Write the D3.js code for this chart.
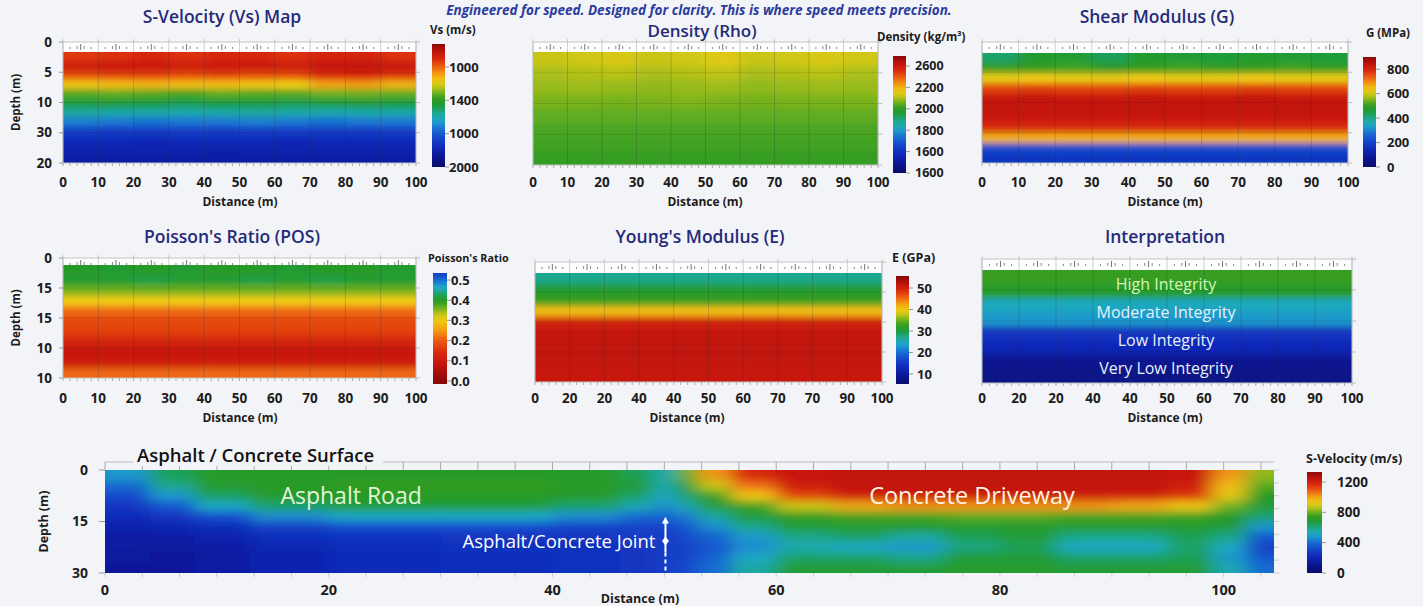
<!DOCTYPE html>
<html>
<head>
<meta charset="utf-8">
<script src="https://cdn.jsdelivr.net/npm/d3@7"></script>
<style>
  body { margin: 0; background: #f3f4f8; overflow: hidden; }
  svg text { font-family: "Open Sans", "DejaVu Sans", sans-serif; }
</style>
</head>
<body>
<div id="chart"></div>
<script>
const W = 1423, H = 606;

// ---- data ----
// distance ticks of the six small sections (m)
const dist10 = [0, 10, 20, 30, 40, 50, 60, 70, 80, 90, 100];

// tick labels exactly as printed
const xLabelsA = ["0", "10", "20", "30", "40", "50", "60", "70", "80", "90", "100"];
const xLabelsB = ["0", "20", "20", "40", "40", "50", "60", "70", "70", "90", "100"];
const xLabelsC = ["0", "20", "20", "40", "40", "50", "60", "70", "80", "90", "100"];
const vsDepthLabels = ["0", "5", "10", "30", "20"];
const posDepthLabels = ["0", "15", "15", "10", "10"];

// colour bar labels
const vsBarLabels = ["1000", "1400", "1000", "2000"];
const rhoBarLabels = ["2600", "2200", "2000", "1800", "1600", "1600"];
const gBarTicks = [0, 200, 400, 600, 800];
const posBarTicks = [0.0, 0.1, 0.2, 0.3, 0.4, 0.5];
const eBarTicks = [10, 20, 30, 40, 50];
const surfBarTicks = [0, 400, 800, 1200];

const integrityLabels = ["High Integrity", "Moderate Integrity", "Low Integrity", "Very Low Integrity"];

// grids : one row per depth slice (top -> bottom), one column per 10 m of distance
const vsGrid = [
  [1060, 1070, 1080, 1070, 1080, 1080, 1070, 1090, 1090, 1070],
  [1110, 1120, 1120, 1110, 1120, 1120, 1110, 1130, 1140, 1120],
  [1040, 1050, 1050, 1040, 1050, 1040, 1040, 1080, 1090, 1070],
  [910, 920, 930, 920, 920, 910, 900, 950, 960, 930],
  [780, 790, 780, 770, 790, 780, 780, 800, 800, 790],
  [700, 710, 700, 690, 700, 700, 690, 700, 710, 700],
  [630, 620, 620, 610, 620, 630, 620, 610, 620, 620],
  [530, 520, 510, 520, 520, 530, 520, 510, 520, 520],
  [420, 410, 410, 420, 410, 410, 420, 410, 410, 420],
  [370, 370, 360, 370, 370, 370, 360, 370, 370, 370],
  [340, 340, 340, 340, 330, 340, 340, 340, 340, 340],
  [320, 320, 320, 320, 320, 320, 320, 320, 320, 320]
];
const rhoGrid = [
  [2290, 2300, 2310, 2290, 2300, 2320, 2290, 2300, 2310, 2300],
  [2265, 2270, 2275, 2265, 2270, 2280, 2265, 2270, 2275, 2265],
  [2250, 2255, 2250, 2245, 2250, 2255, 2245, 2250, 2255, 2250],
  [2230, 2230, 2225, 2230, 2235, 2230, 2225, 2230, 2230, 2230],
  [2210, 2210, 2210, 2210, 2210, 2210, 2210, 2210, 2210, 2210],
  [2190, 2190, 2190, 2190, 2190, 2190, 2190, 2190, 2190, 2190],
  [2180, 2180, 2180, 2180, 2180, 2180, 2180, 2180, 2180, 2180],
  [2170, 2170, 2170, 2170, 2170, 2170, 2170, 2170, 2170, 2170]
];
const gGrid = [
  [420, 470, 460, 430, 470, 460, 450, 470, 460, 450],
  [500, 500, 510, 490, 500, 510, 500, 500, 510, 500],
  [620, 630, 620, 620, 630, 620, 620, 630, 620, 620],
  [760, 770, 760, 760, 770, 760, 760, 770, 760, 760],
  [830, 840, 830, 830, 840, 830, 830, 840, 830, 830],
  [845, 840, 845, 840, 845, 840, 845, 840, 845, 840],
  [830, 830, 830, 830, 830, 830, 830, 830, 830, 830],
  [790, 790, 790, 790, 790, 790, 790, 790, 790, 790],
  [660, 660, 660, 660, 660, 660, 660, 660, 660, 660],
  [220, 220, 220, 220, 220, 220, 220, 220, 220, 220],
  [170, 170, 170, 170, 170, 170, 170, 170, 170, 170]
];
const posGrid = [
  [0.40, 0.41, 0.40, 0.41, 0.40, 0.40, 0.41, 0.40, 0.40, 0.41],
  [0.41, 0.41, 0.42, 0.41, 0.41, 0.42, 0.41, 0.42, 0.41, 0.41],
  [0.36, 0.36, 0.36, 0.36, 0.36, 0.36, 0.36, 0.36, 0.36, 0.36],
  [0.30, 0.30, 0.30, 0.30, 0.30, 0.30, 0.30, 0.30, 0.30, 0.30],
  [0.21, 0.21, 0.21, 0.21, 0.21, 0.21, 0.21, 0.21, 0.21, 0.21],
  [0.18, 0.18, 0.18, 0.18, 0.18, 0.18, 0.18, 0.18, 0.18, 0.18],
  [0.17, 0.17, 0.17, 0.17, 0.17, 0.17, 0.17, 0.17, 0.17, 0.17],
  [0.12, 0.12, 0.12, 0.12, 0.12, 0.12, 0.12, 0.12, 0.12, 0.12],
  [0.10, 0.10, 0.10, 0.10, 0.10, 0.10, 0.10, 0.10, 0.10, 0.10],
  [0.11, 0.11, 0.11, 0.11, 0.11, 0.11, 0.11, 0.11, 0.11, 0.11],
  [0.21, 0.21, 0.21, 0.21, 0.21, 0.21, 0.21, 0.21, 0.21, 0.21]
];
const eGrid = [
  [27, 27, 27, 27, 27, 27, 27, 27, 27, 27],
  [31, 31, 31, 31, 31, 31, 31, 31, 31, 31],
  [33, 33, 33, 33, 33, 33, 33, 33, 33, 33],
  [41, 41, 41, 41, 41, 41, 41, 41, 41, 41],
  [50, 50, 50, 50, 50, 50, 50, 50, 50, 50],
  [51.5, 51.5, 51.5, 51.5, 51.5, 51.5, 51.5, 51.5, 51.5, 51.5],
  [52, 52, 52, 52, 52, 52, 52, 52, 52, 52],
  [52, 52, 52, 52, 52, 52, 52, 52, 52, 52],
  [51.5, 51.5, 51.5, 51.5, 51.5, 51.5, 51.5, 51.5, 51.5, 51.5],
  [51, 51, 51, 51, 51, 51, 51, 51, 51, 51]
];
const intGrid = [
  [0.56, 0.56, 0.56, 0.56, 0.56, 0.56, 0.56, 0.56, 0.56, 0.56],
  [0.53, 0.53, 0.53, 0.53, 0.53, 0.53, 0.53, 0.53, 0.53, 0.53],
  [0.39, 0.39, 0.39, 0.39, 0.39, 0.39, 0.39, 0.39, 0.39, 0.39],
  [0.36, 0.36, 0.36, 0.36, 0.36, 0.36, 0.36, 0.36, 0.36, 0.36],
  [0.19, 0.19, 0.19, 0.19, 0.19, 0.19, 0.19, 0.19, 0.19, 0.19],
  [0.16, 0.16, 0.16, 0.16, 0.16, 0.16, 0.16, 0.16, 0.16, 0.16],
  [0.08, 0.08, 0.08, 0.08, 0.08, 0.08, 0.08, 0.08, 0.08, 0.08],
  [0.06, 0.06, 0.06, 0.06, 0.06, 0.06, 0.06, 0.06, 0.06, 0.06]
];

// surface section : cell edges in distance and depth, values in m/s
const surfDistEdges = [0, 4, 8, 13, 20, 30, 40, 46, 49, 51, 53, 56, 60, 65, 70, 75, 80, 85, 90, 95, 99, 102, 104.5];
const surfDepthEdges = [0, 3, 6, 9, 12, 15, 18, 21, 24, 27, 30];
const surfTicks = [0, 20, 40, 60, 80, 100];
const surfDepthTicks = [0, 15, 30];
const surfGrid = [
  [480, 640, 710, 720, 720, 720, 710, 640, 540, 800, 1020, 1180, 1230, 1250, 1250, 1250, 1250, 1250, 1250, 1230, 1020, 830],
  [400, 590, 700, 720, 740, 740, 720, 670, 540, 700, 880, 1070, 1210, 1250, 1250, 1250, 1250, 1250, 1250, 1210, 960, 780],
  [320, 480, 630, 700, 720, 720, 700, 620, 510, 620, 750, 940, 1130, 1210, 1220, 1220, 1220, 1220, 1210, 1150, 910, 720],
  [260, 350, 510, 620, 670, 670, 620, 540, 460, 540, 670, 750, 880, 990, 1020, 1020, 1020, 1020, 990, 940, 800, 670],
  [220, 260, 330, 460, 510, 510, 460, 400, 380, 430, 560, 670, 740, 760, 760, 780, 780, 760, 760, 750, 720, 620],
  [190, 200, 230, 290, 330, 330, 300, 300, 300, 350, 460, 590, 670, 700, 700, 700, 700, 700, 700, 700, 670, 480],
  [160, 160, 190, 230, 250, 260, 260, 280, 280, 320, 380, 480, 590, 620, 560, 640, 670, 590, 590, 640, 590, 350],
  [150, 140, 160, 200, 230, 240, 250, 260, 280, 300, 350, 460, 540, 510, 480, 600, 640, 510, 510, 620, 510, 290],
  [140, 130, 150, 190, 220, 230, 240, 260, 280, 300, 380, 510, 620, 620, 590, 670, 670, 620, 620, 640, 480, 350],
  [130, 130, 160, 190, 220, 230, 240, 260, 280, 320, 400, 560, 670, 670, 670, 700, 700, 670, 670, 670, 540, 400]
];
const jointAt = 50.1;

// ---- colour map (jet like) ----
const jet = d3.scaleLinear()
  .domain([0, 0.08, 0.16, 0.24, 0.32, 0.38, 0.44, 0.5, 0.55, 0.6, 0.65, 0.7, 0.76, 0.82, 0.88, 0.94, 1])
  .range(["#0a0c6a", "#0c1590", "#1028b8", "#1448cc", "#1a78d2", "#1ea8c8", "#1fa890", "#1f9c3a", "#2a9a22",
          "#6cb020", "#c0c418", "#f0cc14", "#f29a12", "#ec5a12", "#d8280f", "#c0120c", "#8a0808"])
  .clamp(true);
// poisson ratio runs the other way and stops at blue
const posLevel = d3.scaleLinear().domain([0, 0.1, 0.2, 0.3, 0.4, 0.5]).range([1, 0.92, 0.82, 0.7, 0.54, 0.3]);

const svg = d3.select("#chart").append("svg").attr("width", W).attr("height", H);
const defs = svg.append("defs");
svg.append("rect").attr("width", W).attr("height", H).attr("fill", "#f3f4f8");

function blur(id, sx, sy) {
  defs.append("filter").attr("id", id)
    .attr("x", "-5%").attr("y", "-5%").attr("width", "110%").attr("height", "110%")
    .append("feGaussianBlur").attr("stdDeviation", sx + " " + sy);
}
blur("soft", 7, 3);
blur("softWide", 10, 4);

const navy = "#252a78", ink = "#1c1c1c";

// subtitle along the top edge
svg.append("text")
  .attr("x", 699).attr("y", 14.5)
  .attr("text-anchor", "middle")
  .style("font-size", "13.5px").style("font-style", "italic").style("font-weight", 700)
  .attr("fill", "#2b3b9e")
  .text("Engineered for speed. Designed for clarity. This is where speed meets precision.");

// cells + blur, clipped to the plot rectangle
function heat(g, id, cells, xa, xb, ya, yb, color, rect, filter) {
  defs.append("clipPath").attr("id", "clip-" + id).append("rect")
    .attr("x", rect[0]).attr("y", rect[1]).attr("width", rect[2] - rect[0]).attr("height", rect[3] - rect[1]);
  g.append("g").attr("clip-path", `url(#clip-${id})`)
    .append("g").attr("filter", `url(#${filter})`)
    .selectAll("rect").data(cells).join("rect")
      .attr("x", xa).attr("y", ya)
      .attr("width", d => xb(d) - xa(d) + 0.6)
      .attr("height", d => yb(d) - ya(d) + 0.6)
      .attr("fill", d => color(d.v));
}

function colourBar(b, color) {
  const y = d3.scaleLinear().domain(b.domain).range([b.y0, b.y1]);
  const grad = defs.append("linearGradient").attr("id", "grad-" + b.id)
    .attr("x1", 0).attr("x2", 0).attr("y1", 0).attr("y2", 1);
  d3.range(0, 1.0001, 0.04).forEach(t => {
    grad.append("stop").attr("offset", t).attr("stop-color", color(y.invert(b.y0 + t * (b.y1 - b.y0))));
  });
  svg.append("rect")
    .attr("x", b.x).attr("y", b.y0).attr("width", b.w).attr("height", b.y1 - b.y0)
    .attr("fill", `url(#grad-${b.id})`);
  svg.append("text")
    .attr("x", b.titleX).attr("y", b.titleY)
    .attr("text-anchor", b.titleAnchor || "start")
    .style("font-size", (b.titleSize || 11.5) + "px").style("font-weight", 700).attr("fill", ink)
    .text(b.title);
  let ticks;
  if (b.labels) {
    const p = d3.scaleLinear().domain([0, b.labels.length - 1]).range([b.labelTop, b.labelBottom]);
    ticks = b.labels.map((t, i) => ({y: p(i), t}));
  } else {
    ticks = b.ticks.map(v => ({y: y(v), t: b.format ? b.format(v) : String(v)}));
  }
  svg.selectAll(null).data(ticks).join("line")
    .attr("x1", b.x + b.w).attr("x2", b.x + b.w + 4)
    .attr("y1", d => d.y).attr("y2", d => d.y)
    .attr("stroke", "#999");
  svg.selectAll(null).data(ticks).join("text")
    .attr("x", b.labelX).attr("y", d => d.y)
    .attr("dy", "0.35em")
    .style("font-size", (b.labelSize || 13) + "px").style("font-weight", 700).attr("fill", ink)
    .text(d => d.t);
}

function section(p) {
  const g = svg.append("g");
  const x = d3.scaleLinear().domain([0, 100]).range([p.x0, p.x1]);
  const nRows = p.grid.length, nCols = p.grid[0].length;
  const row = d3.scaleBand().domain(d3.range(nRows)).range([p.heatTop, p.bottom]);
  const col = d3.scaleBand().domain(d3.range(nCols)).range([p.x0, p.x1]);
  const depthPos = d3.scaleLinear().domain([0, 4]).range([p.frameTop, p.bottom]);
  const pad = 18;

  g.append("rect")
    .attr("x", p.x0).attr("y", p.frameTop).attr("width", p.x1 - p.x0).attr("height", p.bottom - p.frameTop)
    .attr("fill", "#fdfdfd");

  const cells = [];
  p.grid.forEach((r, i) => r.forEach((v, j) => cells.push({i, j, v})));
  heat(g, p.id, cells,
    d => col(d.j) - (d.j === 0 ? pad : 0),
    d => col(d.j) + col.bandwidth() + (d.j === nCols - 1 ? pad : 0),
    d => row(d.i) - (d.i === 0 ? pad : 0),
    d => row(d.i) + row.bandwidth() + (d.i === nRows - 1 ? pad : 0),
    p.color, [p.x0, p.heatTop, p.x1, p.bottom], "soft");

  // grid
  g.selectAll(null).data([1, 2, 3]).join("line")
    .attr("x1", p.x0).attr("x2", p.x1)
    .attr("y1", d => depthPos(d)).attr("y2", d => depthPos(d))
    .attr("stroke", "#000").attr("stroke-opacity", 0.1);
  g.selectAll(null).data(dist10).join("line")
    .attr("x1", d => x(d)).attr("x2", d => x(d))
    .attr("y1", p.frameTop - 3).attr("y2", p.bottom)
    .attr("stroke", "#333").attr("stroke-opacity", 0.22);
  // small marks in the white strip
  g.selectAll(null).data(d3.range(2, 100, 2).filter(d => d % 10 !== 0)).join("line")
    .attr("x1", d => x(d)).attr("x2", d => x(d))
    .attr("y1", d => p.frameTop + (d % 10 === 4 || d % 10 === 6 ? 4 : 5))
    .attr("y2", p.frameTop + 7)
    .attr("stroke", "#888");
  g.selectAll(null).data(d3.range(5, 100, 10)).join("line")
    .attr("x1", d => x(d)).attr("x2", d => x(d))
    .attr("y1", p.frameTop + 2).attr("y2", p.frameTop + 8)
    .attr("stroke", "#777");
  g.selectAll(null).data(d3.range(0, 101, 2)).join("line")
    .attr("x1", d => x(d)).attr("x2", d => x(d))
    .attr("y1", p.bottom).attr("y2", p.bottom + 3)
    .attr("stroke", "#aaa");
  g.selectAll(null).data([0, 1, 2, 3, 4]).join("line")
    .attr("x1", p.x1).attr("x2", p.x1 + 4)
    .attr("y1", d => depthPos(d)).attr("y2", d => depthPos(d))
    .attr("stroke", "#bbb");
  g.append("rect")
    .attr("x", p.x0).attr("y", p.frameTop).attr("width", p.x1 - p.x0).attr("height", p.bottom - p.frameTop)
    .attr("fill", "none").attr("stroke", "#c4c4c4");

  // x labels
  g.selectAll(null).data(p.xLabels).join("text")
    .attr("x", (t, k) => x(dist10[k])).attr("y", p.labelY)
    .attr("text-anchor", "middle")
    .style("font-size", "13.5px").style("font-weight", 700).attr("fill", ink)
    .text(t => t);
  g.append("text")
    .attr("x", p.axisX).attr("y", p.labelY + 19)
    .attr("text-anchor", "middle")
    .style("font-size", "12px").style("font-weight", 700).attr("fill", ink)
    .text("Distance (m)");

  if (p.depthLabels) {
    g.selectAll(null).data(p.depthLabels).join("text")
      .attr("x", p.x0 - 11).attr("y", (t, k) => depthPos(k))
      .attr("dy", "0.35em").attr("text-anchor", "end")
      .style("font-size", "13.5px").style("font-weight", 700).attr("fill", ink)
      .text(t => t);
    g.selectAll(null).data([0, 1, 2, 3, 4]).join("line")
      .attr("x1", p.x0 - 4).attr("x2", p.x0)
      .attr("y1", d => depthPos(d)).attr("y2", d => depthPos(d))
      .attr("stroke", "#999");
    g.append("text")
      .attr("transform", `translate(${p.x0 - 43},${(p.frameTop + p.bottom) / 2}) rotate(-90)`)
      .attr("text-anchor", "middle")
      .style("font-size", "11.5px").style("font-weight", 700).attr("fill", ink)
      .text("Depth (m)");
  }

  g.append("text")
    .attr("x", p.titleX).attr("y", p.titleY)
    .attr("text-anchor", "middle")
    .style("font-size", (p.titleSize || 17.5) + "px").style("font-weight", 600).attr("fill", navy)
    .text(p.title);

  if (p.bar) colourBar(p.bar, p.color);
  return {g, x, row};
}

// ---- six small sections ----
section({
  id: "vs", title: "S-Velocity (Vs) Map", titleX: 222, titleY: 23,
  x0: 63, x1: 416, frameTop: 42, heatTop: 52, bottom: 163, labelY: 187, axisX: 240,
  grid: vsGrid, color: v => jet((v - 200) / 1000), xLabels: xLabelsA, depthLabels: vsDepthLabels,
  bar: {id: "vs", x: 432, w: 13, y0: 44, y1: 167, domain: [1200, 200], title: "Vs (m/s)", titleX: 430, titleY: 34,
        labels: vsBarLabels, labelTop: 67, labelBottom: 167, labelX: 449}
});
section({
  id: "rho", title: "Density (Rho)", titleX: 702, titleY: 37, titleSize: 17,
  x0: 533, x1: 878, frameTop: 42, heatTop: 52, bottom: 165, labelY: 187, axisX: 705,
  grid: rhoGrid, color: v => jet((v - 1500) / 1200), xLabels: xLabelsA,
  bar: {id: "rho", x: 893, w: 13, y0: 56, y1: 173, domain: [2700, 1500], title: "Density (kg/m³)", titleX: 877, titleY: 41,
        titleSize: 11.5, labels: rhoBarLabels, labelTop: 66, labelBottom: 173, labelX: 915, labelSize: 12.5}
});
section({
  id: "g", title: "Shear Modulus (G)", titleX: 1157, titleY: 23,
  x0: 982, x1: 1348, frameTop: 42, heatTop: 53, bottom: 163, labelY: 187, axisX: 1165,
  grid: gGrid, color: v => jet(v / 900), xLabels: xLabelsA,
  bar: {id: "g", x: 1363, w: 13, y0: 57, y1: 167, domain: [900, 0], title: "G (MPa)", titleX: 1410, titleY: 37,
        titleAnchor: "end", ticks: gBarTicks, labelX: 1387}
});
section({
  id: "pos", title: "Poisson's Ratio (POS)", titleX: 232, titleY: 243,
  x0: 63, x1: 416, frameTop: 258, heatTop: 265, bottom: 378, labelY: 403, axisX: 240,
  grid: posGrid, color: v => jet(posLevel(v)), xLabels: xLabelsA, depthLabels: posDepthLabels,
  bar: {id: "pos", x: 433, w: 14, y0: 273, y1: 384, domain: [0.535, -0.015], title: "Poisson's Ratio", titleX: 428,
        titleY: 262, titleSize: 10.8, ticks: posBarTicks, format: d3.format(".1f"), labelX: 451}
});
section({
  id: "e", title: "Young's Modulus (E)", titleX: 700, titleY: 243,
  x0: 535, x1: 882, frameTop: 262, heatTop: 273, bottom: 382, labelY: 403, axisX: 687,
  grid: eGrid, color: v => jet((v - 5) / 50), xLabels: xLabelsB,
  bar: {id: "e", x: 896, w: 13, y0: 276, y1: 384, domain: [55.6, 5.35], title: "E (GPa)", titleX: 892, titleY: 262,
        titleSize: 12.5, ticks: eBarTicks, labelX: 917}
});
const interp = section({
  id: "int", title: "Interpretation", titleX: 1165, titleY: 243,
  x0: 982, x1: 1352, frameTop: 259, heatTop: 270, bottom: 383, labelY: 403, axisX: 1165,
  grid: intGrid, color: v => jet(v), xLabels: xLabelsC
});
const band = d3.scaleBand().domain(d3.range(integrityLabels.length)).range([270, 383]);
interp.g.selectAll(null).data(integrityLabels).join("text")
  .attr("x", 1166).attr("y", (t, k) => band(k) + band.bandwidth() / 2)
  .attr("dy", "0.35em").attr("text-anchor", "middle")
  .style("font-size", "16px").style("font-weight", 500)
  .attr("fill", (t, k) => k === 0 ? "#d6f5b8" : "#e8f1ff")
  .text(t => t);

// ---- surface section ----
const sx = d3.scaleLinear().domain([0, 104.5]).range([105, 1274]);
const sy = d3.scaleLinear().domain([0, 30]).range([470, 573]);
const surfColor = v => jet(v / 1332);
const sg = svg.append("g");
const surfCells = [];
surfGrid.forEach((r, i) => r.forEach((v, j) => surfCells.push({i, j, v})));
const spad = 24;
heat(sg, "surf", surfCells,
  d => sx(surfDistEdges[d.j]) - (d.j === 0 ? spad : 0),
  d => sx(surfDistEdges[d.j + 1]) + (d.j === surfDistEdges.length - 2 ? spad : 0),
  d => sy(surfDepthEdges[d.i]) - (d.i === 0 ? spad : 0),
  d => sy(surfDepthEdges[d.i + 1]) + (d.i === surfDepthEdges.length - 2 ? spad : 0),
  surfColor, [sx(0), sy(0), sx(104.5), sy(30)], "softWide");

// top ruler
sg.append("line")
  .attr("x1", sx(0)).attr("x2", sx(104.5)).attr("y1", 462).attr("y2", 462)
  .attr("stroke", "#bbb");
sg.selectAll(null).data(d3.range(0, 104.6, 10 / 3)).join("line")
  .attr("x1", d => sx(d)).attr("x2", d => sx(d))
  .attr("y1", 462).attr("y2", sy(0))
  .attr("stroke", "#aaa");
sg.selectAll(null).data(d3.range(0, 104.6, 10 / 3)).join("line")
  .attr("x1", d => sx(d)).attr("x2", d => sx(d))
  .attr("y1", sy(30)).attr("y2", sy(30) + 4)
  .attr("stroke", "#ccc");
sg.selectAll(null).data(d3.range(0, 30.1, 3.75)).join("line")
  .attr("x1", sx(104.5)).attr("x2", sx(104.5) + 5)
  .attr("y1", d => sy(d)).attr("y2", d => sy(d))
  .attr("stroke", "#ccc");
sg.selectAll(null).data(surfDepthTicks).join("line")
  .attr("x1", sx(0) - 6).attr("x2", sx(0))
  .attr("y1", d => sy(d)).attr("y2", d => sy(d))
  .attr("stroke", "#999");

// title on the ruler
sg.append("rect").attr("x", 133).attr("y", 444).attr("width", 250).attr("height", 22).attr("fill", "#f3f4f8");
sg.append("text")
  .attr("x", 137).attr("y", 462)
  .style("font-size", "18.5px").style("font-weight", 600).attr("fill", "#111")
  .text("Asphalt / Concrete Surface");

sg.selectAll(null).data(surfTicks).join("text")
  .attr("x", d => sx(d)).attr("y", 595)
  .attr("text-anchor", "middle")
  .style("font-size", "14.5px").style("font-weight", 700).attr("fill", ink)
  .text(d => d);
sg.append("text")
  .attr("x", 640).attr("y", 603)
  .attr("text-anchor", "middle")
  .style("font-size", "12.5px").style("font-weight", 700).attr("fill", ink)
  .text("Distance (m)");
sg.selectAll(null).data(surfDepthTicks).join("text")
  .attr("x", 88).attr("y", d => sy(d)).attr("dy", "0.35em")
  .attr("text-anchor", "end")
  .style("font-size", "14px").style("font-weight", 700).attr("fill", ink)
  .text(d => d);
sg.append("text")
  .attr("transform", `translate(48,${sy(15)}) rotate(-90)`)
  .attr("text-anchor", "middle")
  .style("font-size", "12.5px").style("font-weight", 700).attr("fill", ink)
  .text("Depth (m)");

// region labels
sg.append("text")
  .attr("x", sx(22)).attr("y", sy(7.5)).attr("dy", "0.35em").attr("text-anchor", "middle")
  .style("font-size", "23px").style("font-weight", 500).attr("fill", "#e4f5d6")
  .text("Asphalt Road");
sg.append("text")
  .attr("x", sx(77.5)).attr("y", sy(7.5)).attr("dy", "0.35em").attr("text-anchor", "middle")
  .style("font-size", "23.5px").style("font-weight", 500).attr("fill", "#fff3e6")
  .text("Concrete Driveway");

// joint marker
const jx = sx(jointAt);
sg.append("line")
  .attr("x1", jx).attr("x2", jx).attr("y1", sy(14.6)).attr("y2", sy(24))
  .attr("stroke", "#fff").attr("stroke-width", 2);
sg.append("line")
  .attr("x1", jx).attr("x2", jx).attr("y1", sy(24)).attr("y2", sy(30))
  .attr("stroke", "#fff").attr("stroke-width", 2).attr("stroke-dasharray", "4 3");
sg.append("path")
  .attr("d", `M${jx},${sy(13.6)} L${jx - 3.5},${sy(15.6)} L${jx + 3.5},${sy(15.6)} Z`)
  .attr("fill", "#fff");
sg.append("path")
  .attr("d", `M${jx},${sy(19.4)} L${jx - 3.5},${sy(20.7)} L${jx},${sy(22)} L${jx + 3.5},${sy(20.7)} Z`)
  .attr("fill", "#fff");
sg.append("text")
  .attr("x", jx - 10).attr("y", sy(20.7)).attr("dy", "0.35em").attr("text-anchor", "end")
  .style("font-size", "18.5px").style("font-weight", 500).attr("fill", "#fff")
  .text("Asphalt/Concrete Joint");

colourBar({id: "surf", x: 1307, w: 15, y0: 472, y1: 573, domain: [1332, 0], title: "S-Velocity (m/s)",
           titleX: 1306, titleY: 463, titleSize: 12.5, ticks: surfBarTicks, labelX: 1337, labelSize: 13.5}, surfColor);
</script>
</body>
</html>
